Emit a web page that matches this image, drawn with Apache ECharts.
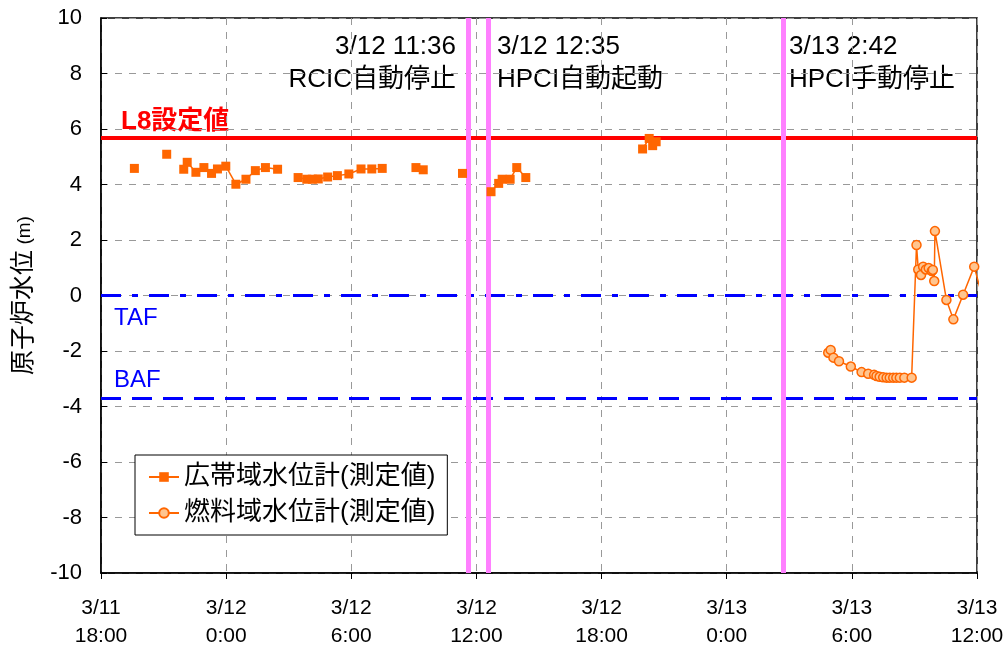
<!DOCTYPE html>
<html>
<head>
<meta charset="utf-8">
<script src="https://cdn.jsdelivr.net/npm/echarts@6/dist/echarts.min.js"></script>
<style>
  html, body { margin: 0; padding: 0; background: #fff; }
  #chart { width: 1008px; height: 646px; }
</style>
</head>
<body>
<div id="chart"></div>
<script>
// 広帯域水位計 (null = 欠測、線を切る)
var wideTimes = ['3/11 19:36', '3/11 20:20', '3/11 21:09', '3/11 21:30',
  '3/11 21:58', '3/11 22:08', '3/11 22:33', '3/11 22:56', '3/11 23:18', '3/11 23:35', '3/11 23:59',
  '3/12 0:28', '3/12 0:57', '3/12 1:24', '3/12 1:53', '3/12 2:28', '3/12 3:00',
  '3/12 3:27', '3/12 3:52', '3/12 4:08', '3/12 4:25', '3/12 4:52', '3/12 5:20', '3/12 5:53',
  '3/12 6:28', '3/12 6:59', '3/12 7:29', '3/12 8:00',
  '3/12 9:06', '3/12 9:27', '3/12 10:30', '3/12 11:20', '3/12 12:00',
  '3/12 12:42', '3/12 13:04', '3/12 13:14', '3/12 13:37', '3/12 13:56', '3/12 14:22', '3/12 17:00',
  '3/12 19:58', '3/12 20:17', '3/12 20:27', '3/12 20:37'];
var wideLevels = [4.58, null, 5.09, null,
  4.55, 4.80, 4.44, 4.61, 4.40, 4.56, 4.66,
  4.01, 4.19, 4.50, 4.61, 4.55, null,
  4.25, 4.19, 4.19, 4.20, 4.27, 4.32, 4.38,
  4.56, 4.56, 4.58, null,
  4.61, 4.53, null, 4.40, null,
  3.74, 4.04, 4.19, 4.19, 4.61, 4.25, null,
  5.28, 5.66, 5.40, 5.54];

// 燃料域水位計
var fuelTimes = ['3/13 4:52', '3/13 4:59', '3/13 5:07', '3/13 5:23', '3/13 5:57', '3/13 6:28',
  '3/13 6:47', '3/13 7:04', '3/13 7:11', '3/13 7:20', '3/13 7:30', '3/13 7:40', '3/13 7:49',
  '3/13 7:59', '3/13 8:08', '3/13 8:18', '3/13 8:31', '3/13 8:52', '3/13 9:06', '3/13 9:11',
  '3/13 9:19', '3/13 9:25', '3/13 9:33', '3/13 9:41', '3/13 9:50', '3/13 9:53', '3/13 9:57',
  '3/13 9:59', '3/13 10:32', '3/13 10:52', '3/13 11:20', '3/13 11:52', '3/13 12:24'];
var fuelLevels = [-2.06, -1.96, -2.24, -2.37, -2.56, -2.76,
  -2.82, -2.86, -2.90, -2.93, -2.95, -2.96, -2.96,
  -2.96, -2.96, -2.96, -2.96, -2.96, 1.82, 0.94,
  0.74, 1.04, 0.94, 0.99, 0.88, 0.92, 0.52,
  2.32, -0.16, -0.86, 0.03, 1.04, -0.45];

// イベント
var eventTimes = ['3/12 11:36', '3/12 12:35', '3/13 2:42'];
var eventLabels = ['3/12 11:36\nRCIC自動停止', '3/12 12:35\nHPCI自動起動', '3/13 2:42\nHPCI手動停止'];

var L8 = 5.7;
var TAF = 0;
var BAF = -3.7;

var FONT = "'Liberation Sans', 'Noto Sans CJK JP', sans-serif";

// 3/11 18:00 からの経過時間(h)
function toHours(s) {
  var p = s.split(' ');
  var day = parseInt(p[0].split('/')[1], 10);
  var hm = p[1].split(':');
  return (day - 11) * 24 + parseInt(hm[0], 10) + parseInt(hm[1], 10) / 60 - 18;
}

function toData(times, levels) {
  var d = [];
  for (var i = 0; i < times.length; i++) {
    d.push([toHours(times[i]), levels[i] == null ? '-' : levels[i]]);
  }
  return d;
}

var chart = echarts.init(document.getElementById('chart'));

chart.setOption({
  animation: false,
  grid: {
    left: 101, right: 31, top: 18, bottom: 73,
    outerBoundsMode: 'none',
    show: true, borderColor: '#000', borderWidth: 1.5, backgroundColor: 'transparent'
  },
  legend: {
    data: ['広帯域水位計(測定値)', '燃料域水位計(測定値)'],
    orient: 'vertical',
    left: 135, top: 455,
    padding: [9, 12, 9, 13],
    itemGap: 10,
    itemWidth: 30,
    itemHeight: 12,
    backgroundColor: '#fff',
    borderColor: '#000',
    borderWidth: 1,
    textStyle: { fontSize: 26, color: '#000', fontFamily: FONT }
  },
  xAxis: {
    type: 'value',
    min: 0, max: 42, interval: 6,
    axisLine: { onZero: false, lineStyle: { color: '#000', width: 1.5 } },
    axisTick: { inside: false, length: 6, lineStyle: { color: '#000' } },
    axisLabel: {
      color: '#000', fontSize: 21, lineHeight: 28, margin: 21, fontFamily: FONT,
      formatter: function (v) {
        var t = v + 18;
        var day = 11 + Math.floor(t / 24);
        var hr = t % 24;
        return '3/' + day + '\n' + hr + ':00';
      }
    },
    splitLine: { show: true, lineStyle: { color: '#999', type: [7, 7], width: 1 } }
  },
  yAxis: {
    type: 'value',
    min: -10, max: 10, interval: 2,
    name: '{a|原子炉水位}{b| (m)}',
    nameLocation: 'middle',
    nameRotate: 90,
    nameGap: 64,
    nameTextStyle: {
      rich: {
        a: { fontSize: 25, color: '#000', fontFamily: FONT },
        b: { fontSize: 19, color: '#000', fontFamily: FONT }
      }
    },
    axisLine: { show: true, lineStyle: { color: '#000', width: 1.5 } },
    axisTick: { show: true, inside: true, length: 6, lineStyle: { color: '#000' } },
    axisLabel: { color: '#000', fontSize: 22, margin: 19, fontFamily: FONT },
    splitLine: { show: true, lineStyle: { color: '#999', type: [7, 7], width: 1 } }
  },
  series: [
    {
      // 基準線・イベント線
      name: 'ref',
      type: 'line',
      data: [],
      silent: true,
      markLine: {
        symbol: 'none',
        silent: true,
        label: { show: false },
        data: [
          { yAxis: L8, lineStyle: { color: '#FF0000', width: 4, type: 'solid' } },
          { yAxis: TAF, lineStyle: { color: '#0000FF', width: 3, type: [20, 11, 6, 11] } },
          { yAxis: BAF, lineStyle: { color: '#0000FF', width: 3, type: [20, 11] } }
        ].concat(eventTimes.map(function (t) {
          return { xAxis: toHours(t), lineStyle: { color: '#FF80FF', width: 5, type: 'solid' } };
        }))
      }
    },
    {
      name: '広帯域水位計(測定値)',
      type: 'line',
      data: toData(wideTimes, wideLevels),
      connectNulls: false,
      symbol: 'rect',
      symbolSize: 9,
      showAllSymbol: true,
      lineStyle: { color: '#FF6600', width: 1.5 },
      itemStyle: { color: '#FF6600' },
      z: 5
    },
    {
      name: '燃料域水位計(測定値)',
      type: 'line',
      data: toData(fuelTimes, fuelLevels),
      symbol: 'circle',
      symbolSize: 9,
      showAllSymbol: true,
      lineStyle: { color: '#FF6600', width: 1.5 },
      itemStyle: { color: '#FFC58F', borderColor: '#FF6600', borderWidth: 1.5 },
      z: 5
    }
  ],
  graphic: [
    {
      type: 'text', x: 456, y: 30,
      style: { text: eventLabels[0], align: 'right', verticalAlign: 'top', fill: '#000', fontSize: 26, lineHeight: 33, fontFamily: FONT }
    },
    {
      type: 'text', x: 497, y: 30,
      style: { text: eventLabels[1], align: 'left', verticalAlign: 'top', fill: '#000', fontSize: 26, lineHeight: 33, fontFamily: FONT }
    },
    {
      type: 'text', x: 789, y: 30,
      style: { text: eventLabels[2], align: 'left', verticalAlign: 'top', fill: '#000', fontSize: 26, lineHeight: 33, fontFamily: FONT }
    },
    {
      type: 'text', x: 121, y: 122,
      style: { text: 'L8設定値', align: 'left', verticalAlign: 'middle', fill: '#FF0000', fontSize: 26, fontWeight: 'bold', fontFamily: FONT }
    },
    {
      type: 'text', x: 114, y: 318,
      style: { text: 'TAF', align: 'left', verticalAlign: 'middle', fill: '#0000FF', fontSize: 24, fontFamily: FONT }
    },
    {
      type: 'text', x: 114, y: 380,
      style: { text: 'BAF', align: 'left', verticalAlign: 'middle', fill: '#0000FF', fontSize: 24, fontFamily: FONT }
    }
  ]
});

window.addEventListener('resize', function () {
  chart.resize();
});
</script>
</body>
</html>
